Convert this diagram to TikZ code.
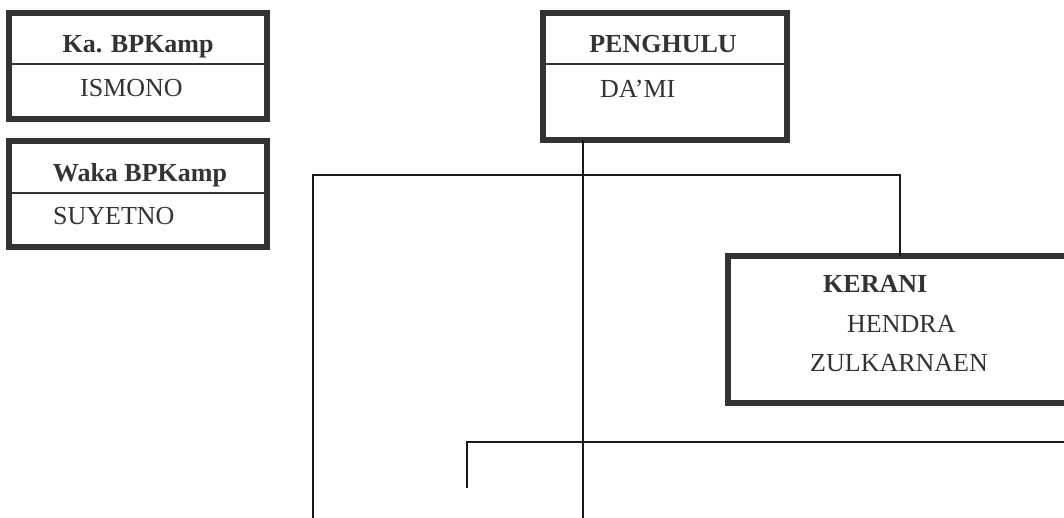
\documentclass[tikz,border=0pt]{standalone}
\usepackage{fontspec}
\setmainfont{Liberation Serif}
\definecolor{boxgray}{HTML}{333333}
\definecolor{txtgray}{HTML}{333333}
\definecolor{linegray}{HTML}{1A1A1A}
\begin{document}
\begin{tikzpicture}[x=1pt,y=-1pt,
  orgbox/.style={draw=boxgray,line width=6pt,rectangle,inner sep=0pt,outer sep=0pt},
  divider/.style={draw=boxgray,line width=1.5pt},
  conn/.style={draw=linegray,line width=1.5pt},
  ttl/.style={anchor=base,inner sep=0pt,text=txtgray,font=\fontsize{26}{31}\selectfont\bfseries},
  nm/.style={anchor=base west,inner sep=0pt,text=txtgray,font=\fontsize{26}{31}\selectfont}]
\useasboundingbox (0,0) rectangle (1064,518);
\fill[white] (0,0) rectangle (1064,518);
% boxes
\node[orgbox,minimum width=258pt,minimum height=106pt] (b1) at (138,66) {};
\node[orgbox,minimum width=258pt,minimum height=106pt] (b2) at (138,194) {};
\node[orgbox,minimum width=244pt,minimum height=127pt] (pg) at (665,76.5) {};
\node[orgbox,minimum width=342pt,minimum height=147pt] (ke) at (899,329.5) {};
% dividers
\draw[divider] (9,64) -- (267,64);
\draw[divider] (9,193) -- (267,193);
\draw[divider] (543,64) -- (787,64);
% texts
\node[ttl] (t1) at (138,53) {Ka. BPKamp};
\node[nm] (n1) at (80,97) {ISMONO};
\node[ttl] (t2) at (140,182) {Waka BPKamp};
\node[nm] (n2) at (53,225) {SUYETNO};
\node[ttl] (t3) at (663,53) {PENGHULU};
\node[nm] (n3) at (600,98) {DA’MI};
\node[ttl,anchor=base west] (t4) at (823,293) {KERANI};
\node[nm] (n4) at (847,332) {HENDRA};
\node[nm] (n5) at (810,371) {ZULKARNAEN};
% connector points
\coordinate (mid) at (583,518);
\coordinate (botL) at (313,518);
\coordinate (topR) at (900,175);
\coordinate (sv) at (467,488);
\coordinate (hr) at (1070,442);
\draw[conn] (pg.south -| mid) -- (mid);
\draw[conn] (botL) |- (topR) -- (ke.north -| topR);
\draw[conn] (sv) |- (hr);
\end{tikzpicture}
\end{document}
